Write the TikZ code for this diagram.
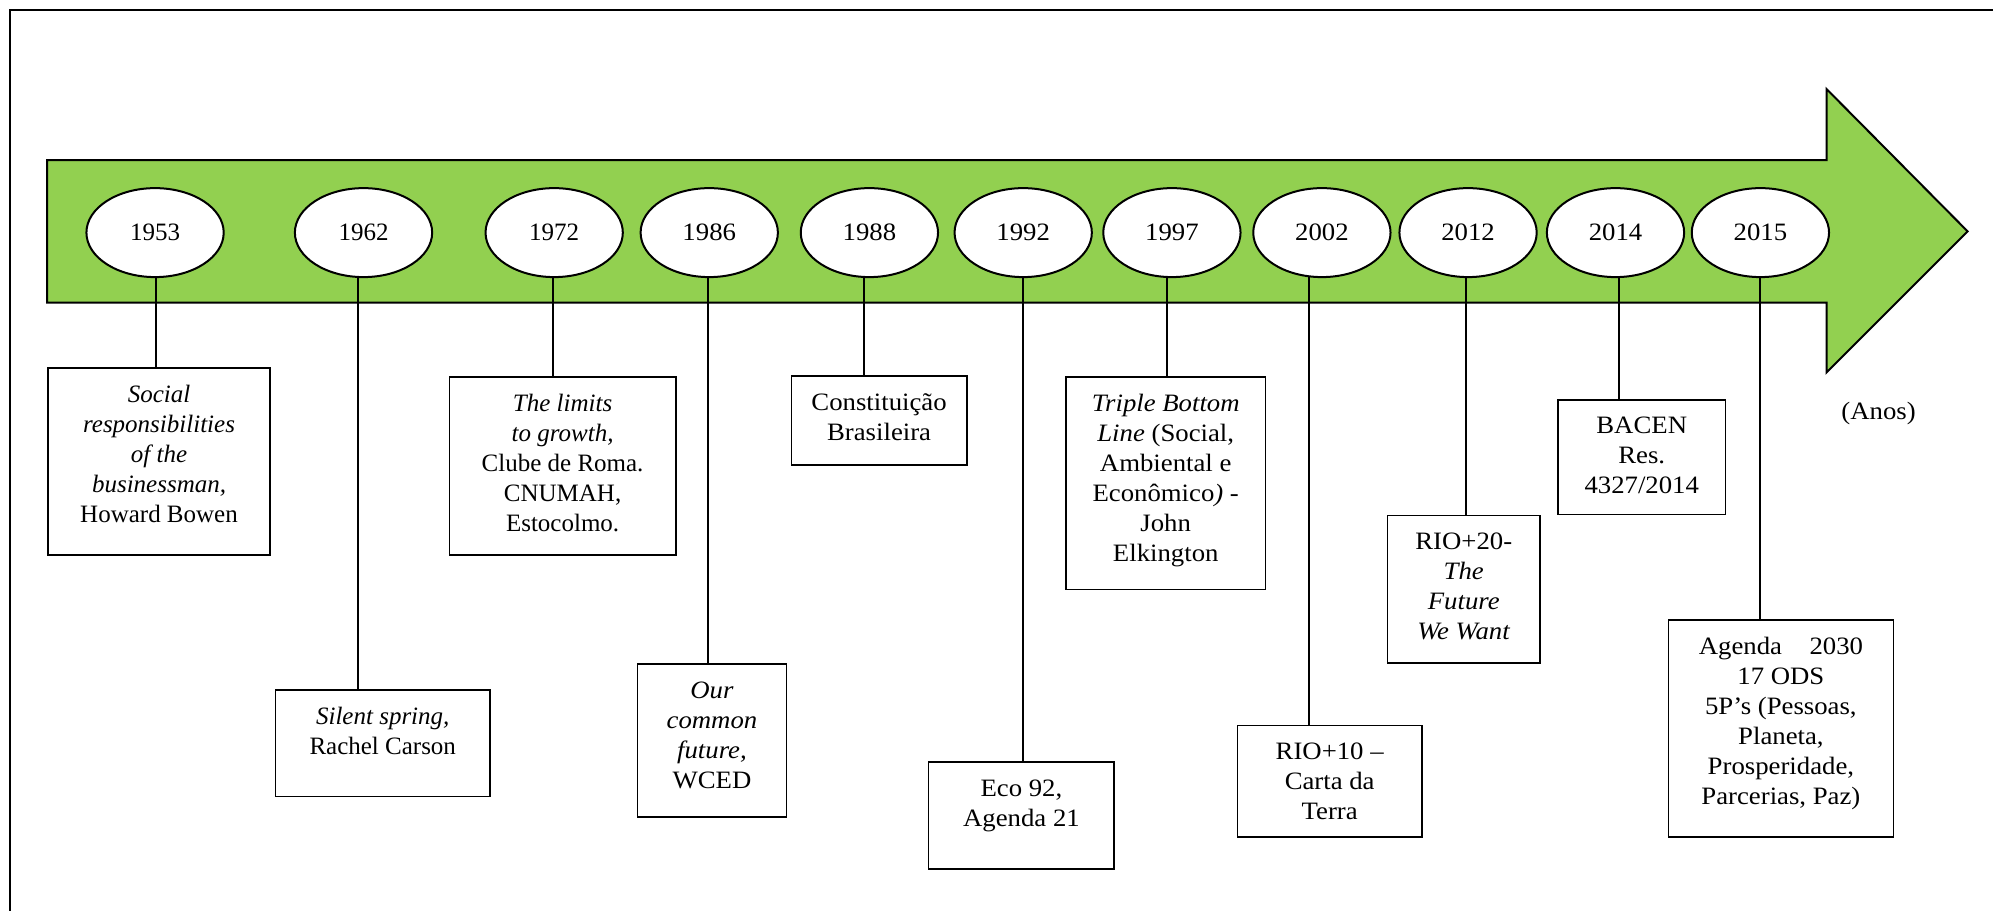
\documentclass[tikz,border=0pt]{standalone}
\usepackage{fontspec}
\setmainfont{Liberation Serif}
\newfontfamily\widefont[FakeStretch=1.07]{Liberation Serif}
\usetikzlibrary{shapes.geometric}
\pgfdeclarelayer{bg}
\pgfsetlayers{bg,main}
\def\ux{0.6355pt}
\definecolor{arrowgreen}{RGB}{146,208,80}
\tikzset{
  yearst/.style={ellipse, draw=black, line width=1pt, fill=white,
    minimum width=108*\ux, minimum height=70*\ux, inner sep=0pt,
    font=\widefont\fontsize{12.5}{15}\selectfont},
  boxst/.style={rectangle, draw=black, line width=0.8pt, fill=white, inner sep=0pt},
  txt/.style={align=center, inner sep=0pt, font=\fontsize{12.5}{15}\selectfont},
  stem/.style={line width=1pt},
}
% event box: name, x1, y1, x2, y2, text
\newcommand\evbox[6]{%
  \node[boxst, minimum width={(#4-#2)*\ux}, minimum height={(#5-#3)*\ux},
        anchor=north west] (#1) at (#2,#3) {};
  \node[txt, anchor=north] (#1t) at ([yshift=-14*\ux]#1.north) {#6};}
% stem from a year ellipse down to its box, at horizontal offset
\newcommand\evstem[3]{%
  \begin{pgfonlayer}{bg}
    \draw[stem] ([xshift=#3*\ux]#1.center) -- ([xshift=#3*\ux]#1.center |- #2.north);
  \end{pgfonlayer}}
\begin{document}
\begin{tikzpicture}[x=\ux, y=-\ux]
\useasboundingbox (0,0) rectangle (1568,716);
% outer frame
\draw[line width=1pt] (8,720) -- (8,8) -- (1572,8);
% timeline arrow
\begin{pgfonlayer}{bg}
\draw[fill=arrowgreen, line width=1pt, line join=miter]
  (37,126) -- (1437,126) -- (1437,70) -- (1548,182) -- (1437,293)
  -- (1437,238) -- (37,238) -- cycle;
\end{pgfonlayer}
% years
\node[yearst, font=\fontsize{12.5}{15}\selectfont] (e1) at (122,183) {1953};
\node[yearst, font=\fontsize{12.5}{15}\selectfont] (e2) at (286,183) {1962};
\node[yearst, font=\fontsize{12.5}{15}\selectfont] (e3) at (436,183) {1972};
\node[yearst] (e4) at (558,183) {1986};
\node[yearst] (e5) at (684,183) {1988};
\node[yearst] (e6) at (805,183) {1992};
\node[yearst] (e7) at (922,183) {1997};
\node[yearst] (e8) at (1040,183) {2002};
\node[yearst] (e9) at (1155,183) {2012};
\node[yearst] (e10) at (1271,183) {2014};
\node[yearst] (e11) at (1385,183) {2015};
% events
\evbox{b1}{37}{289}{212}{436}{\textit{Social}\\\textit{responsibilities}\\\textit{of the}\\\textit{businessman,}\\Howard Bowen}
\evbox{b2}{216}{542}{385}{626}{\textit{Silent spring,}\\Rachel Carson}
\evbox{b3}{353}{296}{531}{436}{\textit{The limits}\\\textit{to growth,}\\Clube de Roma.\\CNUMAH,\\Estocolmo.}
\evbox{b4}{501}{522}{618}{642}{\widefont\textit{Our}\\\widefont\textit{common}\\\widefont\textit{future,}\\\widefont WCED}
\evbox{b5}{622}{295}{760}{365}{\widefont Constituição\\\widefont Brasileira}
\evbox{b6}{730}{599}{876}{683}{\widefont Eco 92,\\\widefont Agenda 21}
\evbox{b7}{838}{296}{995}{463}{\widefont\textit{Triple Bottom}\\\widefont\textit{Line} (Social,\\\widefont Ambiental e\\\widefont Econômico\textit{)} -\\\widefont John\\\widefont Elkington}
\evbox{b8}{973}{570}{1118}{658}{\widefont RIO+10 –\\\widefont Carta da\\\widefont Terra}
\evbox{b9}{1091}{405}{1211}{521}{\widefont RIO+20-\\\widefont\textit{The}\\\widefont\textit{Future}\\\widefont\textit{We Want}}
\evbox{b10}{1225}{314}{1357}{404}{\widefont BACEN\\\widefont Res.\\\widefont 4327/2014}
\evbox{b11}{1312}{487}{1489}{658}{\widefont Agenda\hspace{1.1em}2030\\\widefont 17 ODS\\\widefont 5P’s (Pessoas,\\\widefont Planeta,\\\widefont Prosperidade,\\\widefont Parcerias, Paz)}
% connectors
\evstem{e1}{b1}{1}
\evstem{e2}{b2}{-4}
\evstem{e3}{b3}{-1}
\evstem{e4}{b4}{-1}
\evstem{e5}{b5}{-4}
\evstem{e6}{b6}{0}
\evstem{e7}{b7}{-4}
\evstem{e8}{b8}{-10}
\evstem{e9}{b9}{-2}
\evstem{e10}{b10}{3}
\evstem{e11}{b11}{0}
% axis label
\node[txt, font=\widefont\fontsize{12.5}{15}\selectfont] (anos) at (1478,325) {(Anos)};
\end{tikzpicture}
\end{document}
